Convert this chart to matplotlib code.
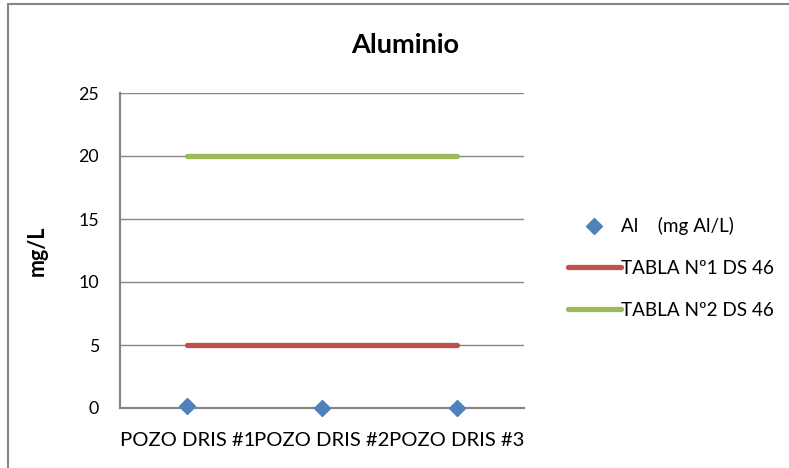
import matplotlib
matplotlib.use("Agg")
import matplotlib.pyplot as plt
from matplotlib.patches import Rectangle

plt.rcParams['font.family'] = ['Lato', 'DejaVu Sans']

# datos del gráfico
pozos = ["POZO DRIS #1", "POZO DRIS #2", "POZO DRIS #3"]
al_mg_l = [0.15, 0.03, 0.02]
tabla1_ds46 = [5, 5, 5]
tabla2_ds46 = [20, 20, 20]
y_ticks = [0, 5, 10, 15, 20, 25]

AZUL = "#4F81BD"
ROJO = "#C0504D"
VERDE = "#9BBB59"
GRIS = "#868686"

fig = plt.figure(figsize=(7.89, 4.68), dpi=100)
ax = fig.add_axes([120 / 789, 1 - 408 / 468, 404 / 789, 315 / 468])

x = list(range(len(pozos)))
ax.plot(x, al_mg_l, linestyle="none", marker="D", markersize=8.5,
        color=AZUL, label="Al    (mg Al/L)", zorder=4, clip_on=False)
ax.plot(x, tabla1_ds46, color=ROJO, linewidth=3.8, label="TABLA Nº1 DS 46",
        solid_capstyle="round", zorder=3)
ax.plot(x, tabla2_ds46, color=VERDE, linewidth=3.8, label="TABLA Nº2 DS 46",
        solid_capstyle="round", zorder=3)

ax.set_xlim(-0.5, len(pozos) - 0.5)
ax.set_ylim(0, 25)
ax.set_yticks(y_ticks)
ax.set_xticks(x)
ax.set_xticklabels(pozos, fontsize=14.6)
ax.tick_params(axis="y", length=0, pad=15, labelsize=12.8)
ax.tick_params(axis="x", length=0, pad=17)

ax.grid(axis="y", color=GRIS, linewidth=1.0)
ax.set_axisbelow(True)
for lado in ("top", "right"):
    ax.spines[lado].set_visible(False)
for lado in ("left", "bottom"):
    ax.spines[lado].set_color(GRIS)
    ax.spines[lado].set_linewidth(1.6)

ax.set_ylabel("mg/L", fontsize=15.5, fontweight="bold", labelpad=22)
fig.text(405 / 789, 1 - 45 / 468, "Aluminio", fontsize=19.5, fontweight="bold",
         ha="center", va="center")

ax.legend(loc="center left", bbox_to_anchor=(560 / 789, 1 - 268 / 468),
          bbox_transform=fig.transFigure, frameon=False, fontsize=13.6,
          handlelength=2.85, handletextpad=0.0, labelspacing=1.3,
          borderaxespad=0)

# marco exterior del área del gráfico
fig.patches.append(Rectangle((8 / 789, -0.05), 1.0, 1 - 4.5 / 468 + 0.05,
                             transform=fig.transFigure, fill=False,
                             edgecolor=GRIS, linewidth=1.5))

fig.savefig("out.png", dpi=100)
